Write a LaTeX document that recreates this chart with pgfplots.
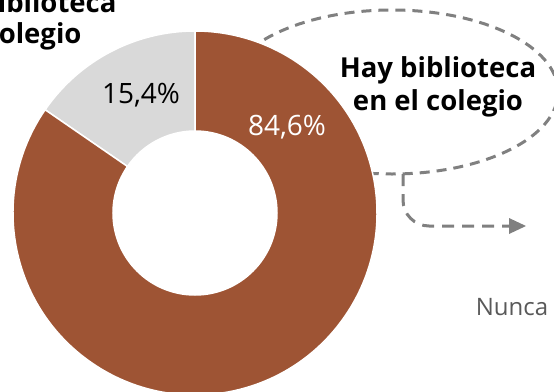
\documentclass[border=0pt]{standalone}
\usepackage{pgfplots}
\pgfplotsset{compat=1.18}
\usepackage{pgfplotstable}
\usepackage{fontspec}
\setmainfont{Open Sans}
\usetikzlibrary{arrows.meta}
\definecolor{brownsl}{HTML}{9E5434}
\definecolor{graysl}{HTML}{D9D9D9}
\definecolor{dashc}{HTML}{808080}
\definecolor{nunca}{HTML}{595959}
\pgfplotstableread{
label value
Hay 84.6
NoHay 15.4
}\datatable
\begin{document}
\begin{tikzpicture}
\useasboundingbox (0,0) rectangle (554pt,391pt);
\clip (0,0) rectangle (554pt,391pt);
\begin{axis}[at={(0,0)},anchor=south west,scale only axis,width=554pt,height=391pt,
  xmin=0,xmax=554,ymin=0,ymax=391,y dir=reverse,hide axis,clip=false,
  /pgf/number format/assume math mode=true]
\pgfplotstablegetelem{0}{value}\of\datatable \let\vyes\pgfplotsretval
\pgfplotstablegetelem{1}{value}\of\datatable \let\vno\pgfplotsretval
\pgfmathsetmacro\angno{90+3.6*\vno}
% dashed ellipse behind the donut
\draw[dashc,line width=3pt,dash pattern=on 10pt off 7pt] (axis cs:392,92) ellipse [x radius=166pt, y radius=82pt];
% connector arrow
\draw[dashc,line width=3pt,dash pattern=on 12pt off 8pt,rounded corners=26pt] (axis cs:403,174) -- (axis cs:403,226) -- (axis cs:512,226);
\fill[dashc] (axis cs:509,218) -- (axis cs:526,226) -- (axis cs:509,234) -- cycle;
% donut
\filldraw[fill=graysl,draw=white,line width=1.5pt] (axis cs:195,213) ++(90:182pt) arc[start angle=90,end angle=\angno,radius=182pt] -- ++({\angno+180}:100pt) arc[start angle=\angno,end angle=90,radius=82pt] -- cycle;
\filldraw[fill=brownsl,draw=white,line width=1.5pt] (axis cs:195,213) ++(\angno:182pt) arc[start angle=\angno,end angle=450,radius=182pt] -- ++(270:100pt) arc[start angle=450,end angle=\angno,radius=82pt] -- cycle;
% labels
\node[anchor=base,font=\fontsize{28}{30}\selectfont] at (axis cs:141,103) {\pgfmathprintnumber[fixed,fixed zerofill,precision=1,use comma,assume math mode=true]{\vno}\%};
\node[anchor=base,white,font=\fontsize{28}{30}\selectfont] at (axis cs:287,135) {\pgfmathprintnumber[fixed,fixed zerofill,precision=1,use comma,assume math mode=true]{\vyes}\%};
\node[anchor=base east,font=\bfseries\fontsize{27.5}{30}\selectfont] at (axis cs:120,12) {No hay biblioteca};
\node[anchor=base east,font=\bfseries\fontsize{27.5}{30}\selectfont] at (axis cs:85,43) {en el colegio};
\node[anchor=base,font=\bfseries\fontsize{27.5}{30}\selectfont] at (axis cs:438,77) {Hay biblioteca};
\node[anchor=base,font=\bfseries\fontsize{27.5}{30}\selectfont] at (axis cs:438,110) {en el colegio};
\node[anchor=base,nunca,font=\fontsize{24}{26}\selectfont] at (axis cs:512,315) {Nunca};
\end{axis}
\end{tikzpicture}
\end{document}
